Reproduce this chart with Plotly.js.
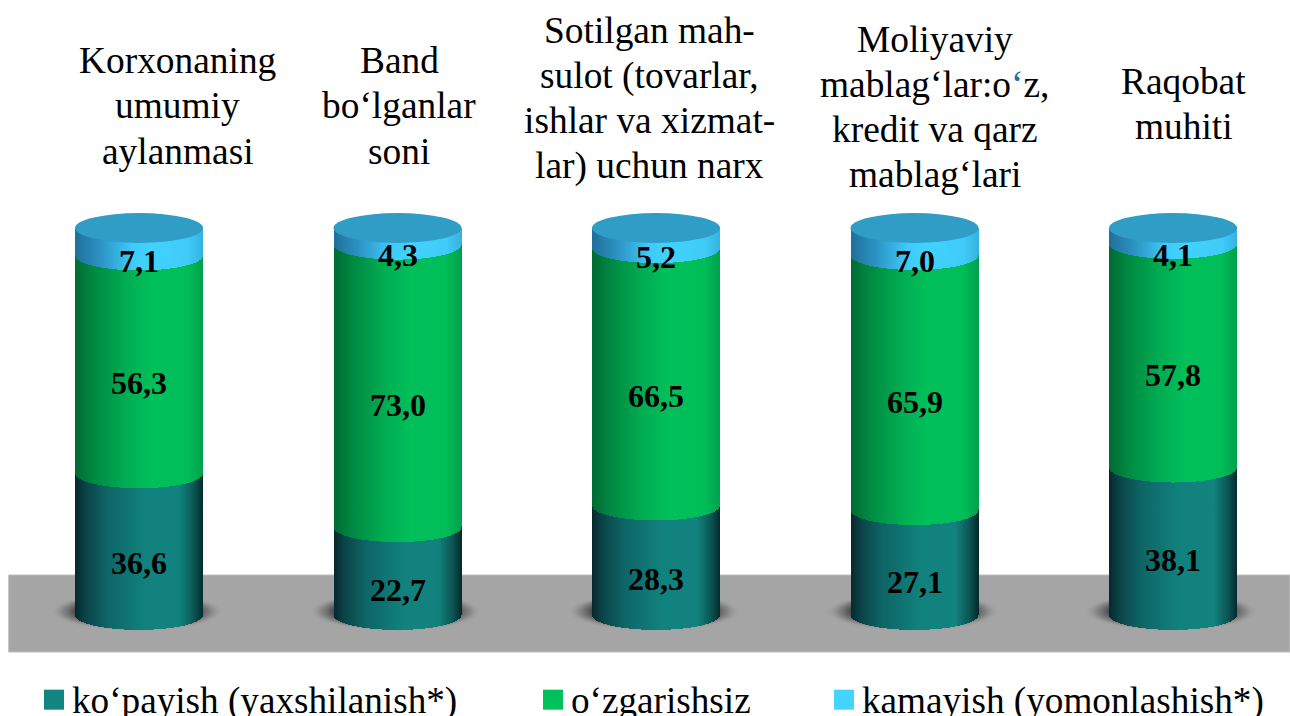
<!DOCTYPE html>
<html><head><meta charset="utf-8">
<script src="https://cdn.plot.ly/plotly-3.0.1.min.js"></script>
<style>html,body{margin:0;padding:0;background:#fff;overflow:hidden}</style>
</head><body><div id="chart" style="width:1290px;height:716px"></div>
<script>
const categories = ["Korxonaning<br>umumiy<br>aylanmasi","Band<br>bo‘lganlar<br>soni","Sotilgan mah-<br>sulot (tovarlar,<br>ishlar va xizmat-<br>lar) uchun narx","Moliyaviy<br>mablag‘lar:o<span style=\"color:#1f6fa8\">‘</span>z,<br>kredit va qarz<br>mablag‘lari","Raqobat<br>muhiti"];
const seriesNames = ["ko‘payish (yaxshilanish*)","o‘zgarishsiz","kamayish (yomonlashish*)"];
const increase = [36.6,22.7,28.3,27.1,38.1];
const unchanged = [56.3,73.0,66.5,65.9,57.8];
const decrease = [7.1,4.3,5.2,7.0,4.1];
const swatchColors = ["#11857f","#00c05a","#45d4ff"];

const W=1290,H=716,L=10,spacing=258.5,barPx=128,px0=615,pxPerUnit=3.87,ry=15;
const idx = categories.map((_,i)=>i);
const all = [increase,unchanged,decrease];
const fmt = v=>v.toFixed(1).replace('.',',');
const traces = all.map((vals,k)=>({type:'bar',x:idx,y:vals,name:seriesNames[k],marker:{color:swatchColors[k],line:{width:0}},hoverinfo:'skip'}));
const titleShift=[38.5,1.5,-7,20,10.5], titleFirstY=[61,61,30.5,39.5,81.5], lineStep=45;
const ann=[];
idx.forEach(i=>{
  categories[i].split('<br>').forEach((line,n)=>{
    ann.push({xref:'x',yref:'paper',x:i,xshift:titleShift[i],y:1-(titleFirstY[i]+n*lineStep)/H,text:line,showarrow:false,align:'center',xanchor:'center',yanchor:'middle',font:{family:'Liberation Serif',size:37.4,color:'#000'}});
  });
  let c=0;
  all.forEach(vals=>{
    ann.push({xref:'x',yref:'y',x:i,y:c+vals[i]/2,yshift:-19,text:'<b>'+fmt(vals[i])+'</b>',showarrow:false,xanchor:'center',yanchor:'middle',font:{family:'Liberation Serif',size:32,color:'#000'}});
    c+=vals[i];
  });
});
const shapes=[{type:'rect',layer:'below',xref:'paper',yref:'paper',x0:-0.001,x1:1,y0:1-652/H,y1:1-575/H,fillcolor:'#a5a5a5',line:{color:'#bdbdbd',width:1}}];
idx.forEach(i=>shapes.push({type:'circle',layer:'below',xref:'x',yref:'y',xsizemode:'pixel',ysizemode:'pixel',xanchor:i,yanchor:0,x0:-89,x1:85,y0:-16,y1:23,fillcolor:'#555555',line:{width:0}}));
idx.forEach(i=>{const t=increase[i]+unchanged[i]+decrease[i];shapes.push({type:'circle',layer:'above',xref:'x',yref:'y',xsizemode:'pixel',ysizemode:'pixel',xanchor:i,yanchor:t,x0:-barPx/2,x1:barPx/2,y0:-ry,y1:ry,fillcolor:'#2f9dc5',line:{width:0}})});
const layout={width:W,height:H,margin:{l:L,r:0,t:0,b:0,pad:0,autoexpand:false},paper_bgcolor:'#fff',plot_bgcolor:'rgba(0,0,0,0)',barmode:'stack',bargap:1-barPx/spacing,
 xaxis:{type:'linear',range:[-(139-L)/spacing,(W-139)/spacing],visible:false,fixedrange:true},
 yaxis:{range:[(px0-H)/pxPerUnit,px0/pxPerUnit],visible:false,fixedrange:true},
 showlegend:true,
 legend:{orientation:'h',xanchor:'left',yanchor:'top',x:0,y:1-668/H,entrywidth:300,entrywidthmode:'pixels',font:{family:'Liberation Serif',size:37.2,color:'#000'},bgcolor:'rgba(0,0,0,0)',traceorder:'normal'},
 annotations:ann,shapes:shapes};
Plotly.newPlot('chart',traces,layout,{displayModeBar:false,staticPlot:true}).then(gd=>{
  const NS='http://www.w3.org/2000/svg';
  const defs=gd.querySelector('.main-svg defs');
  const mk=(id,stops)=>{const g=document.createElementNS(NS,'linearGradient');g.id=id;g.setAttribute('x1','0');g.setAttribute('x2','1');g.setAttribute('y1','0');g.setAttribute('y2','0');
    stops.forEach(([o,c])=>{const s=document.createElementNS(NS,'stop');s.setAttribute('offset',o);s.setAttribute('stop-color',c);g.appendChild(s)});defs.appendChild(g)};
  mk('gr0',[[0,'#06272b'],[.08,'#0a4347'],[.25,'#0e6566'],[.55,'#11827d'],[.82,'#11827d'],[.93,'#0b5553'],[1,'#052a2c']]);
  mk('gr1',[[0,'#006a33'],[.15,'#008a42'],[.4,'#00ad52'],[.6,'#00c05a'],[.88,'#00bd58'],[1,'#00a04c']]);
  mk('gr2',[[0,'#1f6f9a'],[.2,'#2c93c4'],[.45,'#3fcbfa'],[.6,'#42d2ff'],[.88,'#3fcbf8'],[1,'#37b2e0']]);
  const rg=document.createElementNS(NS,'radialGradient');rg.id='shadow';
  [[0,'#3a3a3a',1],[.72,'#4a4a4a',.95],[.85,'#6a6a6a',.55],[1,'#a5a5a5',0]].forEach(([o,c,a])=>{const s=document.createElementNS(NS,'stop');s.setAttribute('offset',o);s.setAttribute('stop-color',c);s.setAttribute('stop-opacity',a);rg.appendChild(s)});defs.appendChild(rg);
  gd.querySelectorAll('.shapelayer path').forEach(p=>{if(p.style.fill==='rgb(85, 85, 85)')p.style.fill='url(#shadow)'});
  gd.querySelectorAll('.barlayer .trace').forEach((t,k)=>{
    t.querySelectorAll('.point path').forEach(p=>{
      const n=p.getAttribute('d').match(/-?[\d.]+/g).map(Number);
      const [x0,y0,y1,x1]=n;
      const top=Math.min(y0,y1),bot=Math.max(y0,y1);
      const rx=(x1-x0)/2;
      p.setAttribute('d',`M${x0},${top}V${bot}A${rx},${ry} 0 0 0 ${x1},${bot}V${top}Z`);
      p.style.fill=`url(#gr${k})`;
    });
  });
  const legend=gd.querySelector('.legend');
  const legendX=parseFloat(legend.getAttribute('transform').match(/translate\(([-\d.]+)/)[1]);
  const sb=legend.querySelector('.scrollbox');if(sb)sb.removeAttribute('clip-path');
  const swatchCx=[54,553,844],textX=[72,571,862];
  legend.querySelectorAll('.traces').forEach((t,k)=>{
    const m=t.getAttribute('transform').match(/translate\(([-\d.]+),\s*([-\d.]+)/);
    t.setAttribute('transform',`translate(${swatchCx[k]-20-legendX},${m[2]})`);
    t.querySelectorAll('.legendpoints path').forEach(p=>{p.setAttribute('transform','translate(20,1) scale(1.667)');p.style.strokeWidth=0});
    t.querySelector('text').setAttribute('x',textX[k]-swatchCx[k]+20);
  });
});
</script></body></html>
